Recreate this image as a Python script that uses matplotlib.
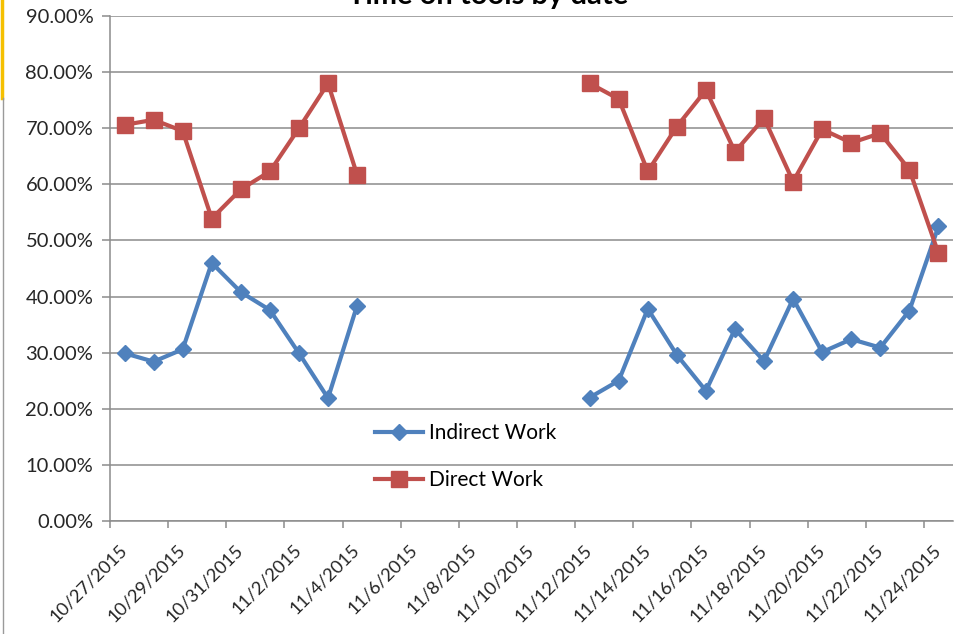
import matplotlib
matplotlib.use('Agg')
import matplotlib.pyplot as plt
import matplotlib.dates as mdates
from matplotlib.lines import Line2D
from matplotlib.ticker import FuncFormatter
import numpy as np
import pandas as pd

plt.rcParams['font.family'] = ['Lato', 'DejaVu Sans']

# one entry per day, 10/27/2015 .. 11/24/2015 (None = no data that day)
dates = pd.date_range('2015-10-27', '2015-11-24', freq='D')
indirect = [29.9, 28.4, 30.6, 46.0, 40.8, 37.6, 29.9, 21.9, 38.4,
            None, None, None, None, None, None, None,
            22.0, 25.0, 37.8, 29.6, 23.2, 34.2, 28.5, 39.6, 30.1, 32.4, 30.9, 37.5, 52.5]
direct = [70.6, 71.5, 69.5, 53.9, 59.1, 62.3, 70.0, 78.0, 61.7,
          None, None, None, None, None, None, None,
          78.0, 75.2, 62.3, 70.3, 76.8, 65.8, 71.8, 60.5, 69.8, 67.4, 69.1, 62.6, 47.7]
series_names = ['Indirect Work', 'Direct Work']
title = 'Time on tools by date'

blue = '#4F81BD'
red = '#C0504D'
grid_gray = '#8C8C8C'

fig = plt.figure(figsize=(9.61, 6.34), dpi=100)
ax = fig.add_axes([110/961, 1-521/634, (953-110)/961, (521-16)/634])

# points sit in the middle of each day band
x = dates + pd.Timedelta(hours=12)
y_ind = np.array([np.nan if v is None else v for v in indirect])
y_dir = np.array([np.nan if v is None else v for v in direct])

ax.plot(x, y_ind, color=blue, lw=3, marker='D', ms=8, mec=blue, label=series_names[0])
ax.plot(x, y_dir, color=red, lw=3, marker='s', ms=12, mec=red, label=series_names[1])

ax.set_xlim(dates[0], dates[-1] + pd.Timedelta(days=1))
ax.set_ylim(0, 90)
ax.set_yticks(np.arange(0, 91, 10))
ax.yaxis.set_major_formatter(FuncFormatter(lambda v, p: f'{v:.2f}%'))
ax.yaxis.grid(True, color=grid_gray, lw=1.1)
ax.set_axisbelow(True)

# labels centred under their day, tick marks at the day boundaries
label_days = dates[::2]
ax.set_xticks(label_days + pd.Timedelta(hours=12))
ax.set_xticklabels([f'{d.month}/{d.day}/{d.year}' for d in label_days],
                   rotation=45, ha='right', va='center', rotation_mode='anchor')
ax.set_xticks(mdates.date2num(label_days), minor=True)
ax.tick_params(axis='x', which='major', length=0, pad=19, labelsize=13.2, colors='#262626')
ax.tick_params(axis='x', which='minor', length=5, width=1.1, color=grid_gray, direction='out')
ax.tick_params(axis='y', length=6, width=1.1, color=grid_gray, pad=6, labelsize=14.5, labelcolor='#262626')

for side in ['top', 'right']:
    ax.spines[side].set_visible(False)
for side in ['left', 'bottom']:
    ax.spines[side].set_color(grid_gray)
    ax.spines[side].set_linewidth(1.1)

ax.legend(loc='upper left', bbox_to_anchor=(375/961, 1-423/634), bbox_transform=fig.transFigure,
          frameon=False, fontsize=15, handlelength=2.3, handletextpad=0.3,
          labelspacing=1.3, borderpad=0, borderaxespad=0)

fig.text(488/961, 1-4/634, title, ha='center', va='baseline', fontsize=21,
         fontweight='bold', color='black')

# frame edge on the left of the slide
fig.add_artist(Line2D([1.5/961, 1.5/961], [1, 1-98/634], color='#F5C000', lw=2.5, transform=fig.transFigure))
fig.add_artist(Line2D([2.5/961, 2.5/961], [1-98/634, 0], color='#9A9A9A', lw=1, transform=fig.transFigure))

fig.savefig('out.png', dpi=100)
